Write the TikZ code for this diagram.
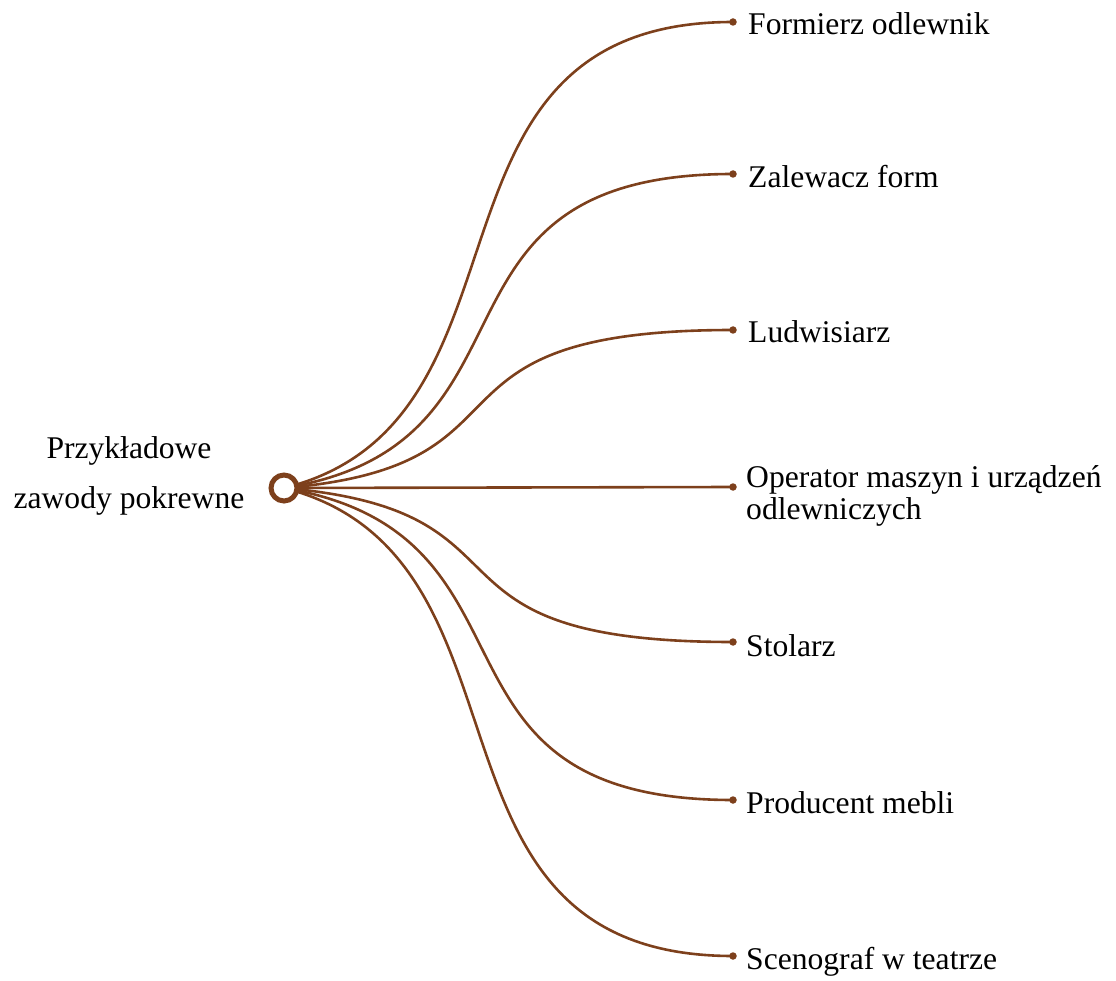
\documentclass[tikz,border=0pt]{standalone}
\usepackage{fontspec}
\setmainfont{Liberation Serif}
\usetikzlibrary{backgrounds}
\definecolor{brn}{RGB}{125,64,28}
\begin{document}
\begin{tikzpicture}[x=1pt,y=-1pt,
  link/.style={draw=brn,line width=2.6pt},
  dotend/.style={circle,fill=brn,inner sep=0pt,minimum size=7.5pt},
  lbl/.style={anchor=base west,inner sep=0pt,font=\fontsize{31.6}{31.5}\selectfont},
  hubst/.style={circle,draw=brn,fill=white,line width=5pt,inner sep=0pt,minimum size=26pt}]
\useasboundingbox (0,0) rectangle (1116,981);
\node[hubst] (hub) at (284,488) {};
\node[inner sep=0pt,align=center,font=\fontsize{31.6}{50}\selectfont] (root) at (129,476) {Przykładowe\\zawody pokrewne};
\node[dotend] (d1) at (733,22) {};
\node[dotend] (d2) at (733,174) {};
\node[dotend] (d3) at (733,330) {};
\node[dotend] (d4) at (733,487) {};
\node[dotend] (d5) at (733,642) {};
\node[dotend] (d6) at (733,800) {};
\node[dotend] (d7) at (733,956) {};
\node[lbl] (t1) at (748,35) {Formierz odlewnik};
\node[lbl] (t2) at (748,188) {Zalewacz form};
\node[lbl] (t3) at (748,343) {Ludwisiarz};
\node[lbl,anchor=west,align=left] (t4) at (746,496) {Operator maszyn i urządzeń\\odlewniczych};
\node[lbl] (t5) at (746,656) {Stolarz};
\node[lbl] (t6) at (746,813) {Producent mebli};
\node[lbl] (t7) at (746,969) {Scenograf w teatrze};
\begin{scope}[on background layer]
\draw[link] (hub.center) .. controls (551,422) and (400,22) .. (d1.center);
\draw[link] (hub.center) .. controls (558,444) and (405,174) .. (d2.center);
\draw[link] (hub.center) .. controls (551,466) and (400,330) .. (d3.center);
\draw[link] (hub.center) -- (d4.center);
\draw[link] (hub.center) .. controls (551,511) and (400,642) .. (d5.center);
\draw[link] (hub.center) .. controls (558,534) and (405,800) .. (d6.center);
\draw[link] (hub.center) .. controls (551,556) and (400,956) .. (d7.center);
\end{scope}
\end{tikzpicture}
\end{document}
